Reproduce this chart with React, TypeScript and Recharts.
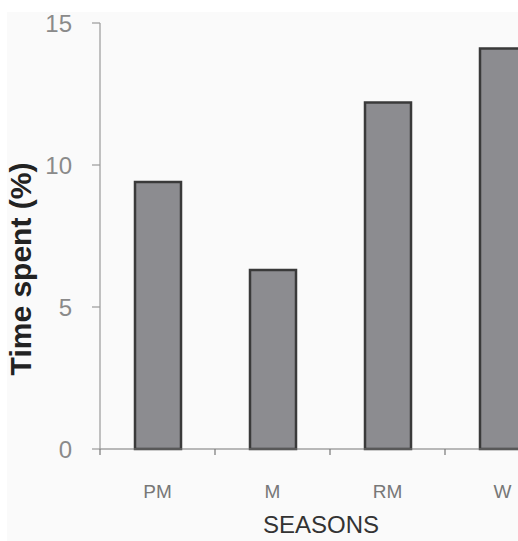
import { BarChart, Bar, XAxis, YAxis, Label } from "recharts";

const SEASONS = ["PM", "M", "RM", "W"];
const TIME_SPENT = [9.4, 6.3, 12.2, 14.1];
const Y_TICKS = [0, 5, 10, 15];

const data = SEASONS.map((s, i) => ({ season: s, value: TIME_SPENT[i] }));

const FONT = "'Liberation Sans', Arial, sans-serif";

function SeasonTick(props: any) {
  const { x, y, payload } = props;
  const off = payload?.offset ?? 57.5;
  return (
    <g>
      <line x1={x - off} y1={y} x2={x - off} y2={y + 6} stroke="#777" strokeWidth={1.2} />
      <text x={x} y={y + 49} textAnchor="middle" fontSize={19} fill="#777" fontFamily={FONT}>
        {payload.value}
      </text>
    </g>
  );
}

export default function App() {
  return (
    <div style={{ position: "absolute", left: 0, top: 0, width: 518, height: 541, overflow: "hidden", background: "#fff" }}>
      <div style={{ position: "absolute", left: 7, top: 12, right: 0, bottom: 0, background: "#fafafa" }} />
      <div style={{ position: "absolute", left: 0, top: 0 }}>
        <BarChart width={600} height={541} data={data} margin={{ top: 23, right: 40, bottom: 0, left: 0 }}
          barSize={46}>
          <XAxis dataKey="season" height={92} tickLine={false} tickSize={0} tickMargin={0}
            axisLine={{ stroke: "#777", strokeWidth: 1.2 }} tick={<SeasonTick />} interval={0}>
            <Label content={() => (
              <text x={321} y={533} textAnchor="middle" fontSize={24} fill="#333" fontFamily={FONT}>SEASONS</text>
            )} />
          </XAxis>
          <YAxis width={100} domain={[0, 15]} ticks={Y_TICKS} tickSize={8} tickMargin={20}
            axisLine={{ stroke: "#999", strokeWidth: 1.2 }} tickLine={{ stroke: "#999", strokeWidth: 1.2 }}
            tick={{ fontSize: 24, fill: "#8a8a8a", fontFamily: FONT }}>
            <Label content={() => (
              <text x={31} y={269} transform="rotate(-90 31 269)" textAnchor="middle" fontSize={30}
                fontWeight="bold" fill="#222" fontFamily={FONT}>Time spent (%)</text>
            )} />
          </YAxis>
          <Bar dataKey="value" fill="#8c8c90" stroke="#3a3a3a" strokeWidth={2.5} isAnimationActive={false} />
        </BarChart>
      </div>
    </div>
  );
}
